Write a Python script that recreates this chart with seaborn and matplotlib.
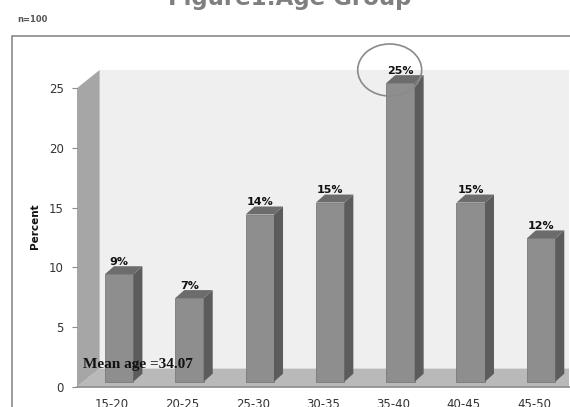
import matplotlib
matplotlib.use("Agg")
import matplotlib.pyplot as plt
import matplotlib.transforms as mtransforms
from matplotlib.patches import Polygon, Ellipse, Rectangle
import seaborn as sns

# chart data
age_groups = ["15-20", "20-25", "25-30", "30-35", "35-40", "40-45", "45-50"]
percents = [9, 7, 14, 15, 25, 15, 12]
y_ticks = [0, 5, 10, 15, 20, 25]
title_text = "Figure1:Age Group"
sample_note = "n=100"
mean_note = "Mean age =34.07"

sns.set_theme(style="white")
plt.rcParams['font.family'] = ['DejaVu Sans']

W, H = 570, 407
fig = plt.figure(figsize=(W / 100, H / 100), dpi=100)
ax = fig.add_axes([77 / W, (H - 386.7) / H, (569.2 - 77) / W, (386.7 - 70) / H])

# front faces of the bars
sns.barplot(x=age_groups, y=percents, color="#8e8e8e", saturation=1,
            width=0.405, ax=ax, edgecolor="#7a7a7a", linewidth=0.6, zorder=2)

ax.set_xlim(-0.5, 6.5)
ax.set_ylim(0, 26.52)

# 3d look: depth of the plot box and of each bar (data units)
box_dx, box_dy = 0.322, 1.52
bar_dx, bar_dy = 0.128, 0.67
shift = ax.transData + mtransforms.ScaledTranslation(0.07, 0.05, fig.dpi_scale_trans)

x0, x1 = ax.get_xlim()
top = max(y_ticks)
ax.add_patch(Polygon([(x0 + box_dx, box_dy), (x1 + 1, box_dy), (x1 + 1, 26.52 + 1),
                      (x0 + box_dx, 26.52)], closed=True, fc="#efefef", ec="none",
                     zorder=0.3))
ax.add_patch(Polygon([(x0, 0), (x0, top), (x0 + box_dx, top + box_dy), (x0 + box_dx, box_dy)],
                     closed=True, fc="#a6a6a6", ec="none", zorder=0.5))
ax.add_patch(Polygon([(x0, 0), (x0 + box_dx, box_dy), (x1 + 1, box_dy), (x1 + 1, 0)],
                     closed=True, fc="#b9b9b9", ec="none", zorder=0.4))
ax.plot([x0, x1 + 1], [0, 0], color="#8a8a8a", lw=1.2, zorder=0.6, clip_on=False)

for p, val in zip(ax.patches[:len(percents)], percents):
    p.set_transform(shift)
    bx, bw, bh = p.get_x(), p.get_width(), p.get_height()
    side = Polygon([(bx + bw, 0), (bx + bw + bar_dx, bar_dy), (bx + bw + bar_dx, bh + bar_dy),
                    (bx + bw, bh)], closed=True, fc="#5c5c5c", ec="none", zorder=2,
                   transform=shift)
    cap = Polygon([(bx, bh), (bx + bar_dx, bh + bar_dy), (bx + bw + bar_dx, bh + bar_dy),
                   (bx + bw, bh)], closed=True, fc="#6c6c6c", ec="none", zorder=2,
                  transform=shift)
    ax.add_patch(side)
    ax.add_patch(cap)
    ax.text(bx + bw / 2, bh + bar_dy + 0.1, f"{val}%", ha="center", va="baseline",
            fontsize=8, fontweight="semibold", color="#111111", transform=shift,
            zorder=4, clip_on=False)

# circle around the biggest group
imax = percents.index(max(percents))
ax.add_patch(Ellipse((imax - 0.053, max(percents) + 1.52), 0.91, 4.36, fill=False,
                     ec="#8a8a8a", lw=1.2, zorder=5, clip_on=False))

ax.text(-0.42, 1.85, mean_note, ha="left", va="center", fontsize=11,
        fontweight="bold", family="Liberation Serif", color="#111111", zorder=6)

for s in ax.spines.values():
    s.set_visible(False)
ax.set_yticks(y_ticks)
ax.tick_params(axis="y", length=3.6, width=0.8, color="#8a8a8a", pad=6,
               labelsize=8.5, labelcolor="#333333", left=True)
ax.tick_params(axis="x", length=0, pad=8, labelsize=8.5, labelcolor="#333333")
ax.set_xlabel("")
ax.set_ylabel("Percent", fontsize=7.5, fontweight="bold", color="#111111")
ax.yaxis.set_label_coords(-37 / 492, (386.7 - 226) / 316.7)
ax.grid(False)
ax.set_facecolor("white")

# frame, note and title
fig.add_artist(Rectangle((11.7 / W, -0.1), 1, (H - 36.5) / H + 0.1, transform=fig.transFigure,
                         fill=False, ec="#808080", lw=1.1))
fig.text(17 / W, (H - 19) / H, sample_note, ha="left", va="center", fontsize=6,
         fontweight="bold", color="#555555")
fig.text(290 / W, (H - 4.5) / H, title_text, ha="center", va="baseline", fontsize=16.5,
         fontweight="bold", color="#7f7f7f")

fig.savefig("out.png", dpi=100)
